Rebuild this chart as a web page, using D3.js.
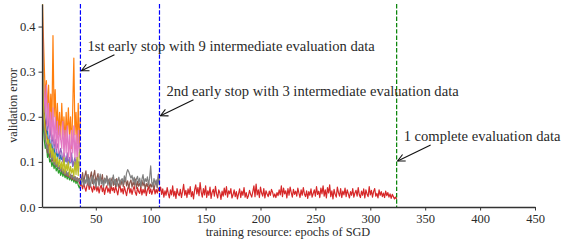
<!DOCTYPE html>
<html>
<head>
<meta charset="utf-8">
<script src="https://cdn.jsdelivr.net/npm/d3@7"></script>
<style>
  body { margin: 0; background: #fff; }
  text { font-family: "Liberation Serif", "DejaVu Serif", serif; fill: #2a2a2a; }
</style>
</head>
<body>
<div id="vis"></div>
<script>
// chart frame
const FRAME_WIDTH = 563;
const FRAME_HEIGHT = 244;
const MARGINS = {left: 42, right: 28, top: 4, bottom: 37};

// data: validation error per epoch (series start at epoch 1)
const COLORS = ["#1f77b4", "#ff7f0e", "#2ca02c", "#d62728", "#9467bd",
                "#8c564b", "#e377c2", "#7f7f7f", "#bcbd22"];

const blue = [0.48, 0.28, 0.20, 0.19, 0.16, 0.17, 0.14, 0.15, 0.13, 0.14, 0.12, 0.13,
  0.115, 0.12, 0.11, 0.125, 0.10, 0.115, 0.105, 0.11, 0.095, 0.108, 0.10, 0.112,
  0.092, 0.104, 0.098, 0.11, 0.09, 0.10, 0.094, 0.105, 0.088, 0.10, 0.092, 0.096];
const orange = [0.50, 0.40, 0.32, 0.24, 0.28, 0.21, 0.27, 0.19, 0.25, 0.18, 0.38, 0.20,
  0.26, 0.17, 0.23, 0.16, 0.21, 0.15, 0.23, 0.16, 0.20, 0.14, 0.21, 0.15,
  0.22, 0.16, 0.20, 0.13, 0.22, 0.33, 0.16, 0.21, 0.14, 0.23, 0.13, 0.20];
const green = [0.46, 0.19, 0.15, 0.13, 0.14, 0.11, 0.12, 0.10, 0.105, 0.09, 0.10, 0.085,
  0.095, 0.08, 0.088, 0.075, 0.082, 0.07, 0.08, 0.068, 0.075, 0.065, 0.072, 0.062,
  0.07, 0.06, 0.066, 0.058, 0.064, 0.055, 0.062, 0.052, 0.06, 0.048, 0.042, 0.05];
const red = [0.46, 0.30, 0.22, 0.18, 0.16, 0.15, 0.13, 0.14, 0.12, 0.11, 0.12, 0.10,
  0.11, 0.09, 0.10, 0.09, 0.085, 0.09, 0.08, 0.085, 0.075, 0.08, 0.07, 0.075,
  0.068, 0.072, 0.065, 0.07, 0.062, 0.066, 0.06, 0.064, 0.058, 0.062, 0.055, 0.048,
  // epochs 37-108
  0.050, 0.040, 0.053, 0.043, 0.035, 0.048, 0.055, 0.039, 0.049, 0.042, 0.033, 0.047,
  0.038, 0.051, 0.035, 0.045, 0.031, 0.043, 0.048, 0.034, 0.044, 0.028, 0.041, 0.047,
  0.033, 0.042, 0.030, 0.049, 0.036, 0.043, 0.032, 0.046, 0.037, 0.027, 0.042, 0.048,
  0.033, 0.041, 0.029, 0.045, 0.035, 0.025, 0.040, 0.047, 0.031, 0.041, 0.028, 0.039,
  0.046, 0.032, 0.026, 0.043, 0.034, 0.030, 0.044, 0.027, 0.039, 0.031, 0.042, 0.025,
  0.038, 0.045, 0.030, 0.040, 0.028, 0.037, 0.043, 0.029, 0.039, 0.031, 0.042, 0.034,
  // epochs 109-324
  0.044, 0.028, 0.040, 0.022, 0.036, 0.026, 0.043, 0.030, 0.020, 0.038, 0.027, 0.047,
  0.024, 0.035, 0.019, 0.041, 0.029, 0.025, 0.039, 0.021, 0.034, 0.050, 0.026, 0.037,
  0.021, 0.040, 0.028, 0.045, 0.023, 0.034, 0.018, 0.038, 0.049, 0.029, 0.043, 0.025,
  0.054, 0.033, 0.022, 0.041, 0.027, 0.047, 0.021, 0.036, 0.026, 0.044, 0.019, 0.033,
  0.039, 0.024, 0.046, 0.029, 0.020, 0.038, 0.031, 0.017, 0.035, 0.024, 0.042, 0.027,
  0.045, 0.022, 0.036, 0.029, 0.041, 0.020, 0.027, 0.038, 0.023, 0.034, 0.018, 0.029,
  0.040, 0.021, 0.035, 0.026, 0.043, 0.022, 0.032, 0.019, 0.025, 0.037, 0.028, 0.022,
  0.034, 0.047, 0.023, 0.051, 0.027, 0.038, 0.021, 0.044, 0.031, 0.024, 0.041, 0.020,
  0.036, 0.029, 0.023, 0.035, 0.026, 0.039, 0.033, 0.022, 0.029, 0.021, 0.032, 0.025,
  0.038, 0.027, 0.047, 0.023, 0.042, 0.029, 0.036, 0.020, 0.041, 0.026, 0.044, 0.032,
  0.022, 0.039, 0.028, 0.035, 0.024, 0.042, 0.031, 0.021, 0.038, 0.026, 0.043, 0.029,
  0.023, 0.036, 0.019, 0.034, 0.026, 0.040, 0.022, 0.030, 0.038, 0.024, 0.045, 0.028,
  0.035, 0.021, 0.042, 0.029, 0.047, 0.024, 0.038, 0.020, 0.043, 0.031, 0.049, 0.023,
  0.036, 0.018, 0.039, 0.028, 0.022, 0.044, 0.032, 0.024, 0.041, 0.021, 0.035, 0.027,
  0.042, 0.023, 0.038, 0.029, 0.020, 0.034, 0.026, 0.041, 0.022, 0.031, 0.037, 0.024,
  0.043, 0.027, 0.021, 0.035, 0.026, 0.040, 0.020, 0.038, 0.029, 0.023, 0.045, 0.027,
  0.037, 0.022, 0.034, 0.041, 0.024, 0.030, 0.020, 0.038, 0.026, 0.034, 0.023, 0.031,
  0.021, 0.035, 0.025, 0.032, 0.022, 0.029, 0.019, 0.028, 0.023, 0.018, 0.022, 0.017];
const purple = [0.50, 0.30, 0.21, 0.24, 0.19, 0.17, 0.20, 0.15, 0.18, 0.14, 0.16, 0.13,
  0.15, 0.12, 0.14, 0.13, 0.11, 0.13, 0.12, 0.10, 0.12, 0.11, 0.10, 0.12,
  0.09, 0.11, 0.10, 0.12, 0.09, 0.10, 0.11, 0.09, 0.10, 0.08, 0.10, 0.09];
const brown = [0.45, 0.25, 0.18, 0.15, 0.14, 0.12, 0.13, 0.11, 0.12, 0.10, 0.11, 0.095,
  0.10, 0.09, 0.095, 0.085, 0.09, 0.08, 0.085, 0.075, 0.08, 0.07, 0.078, 0.068,
  0.074, 0.065, 0.072, 0.062, 0.07, 0.06, 0.068, 0.058, 0.065, 0.06, 0.063, 0.057,
  0.062, 0.076, 0.053, 0.069, 0.080, 0.056, 0.072, 0.048, 0.067, 0.078, 0.052, 0.070,
  0.081, 0.055, 0.065, 0.074, 0.050, 0.068, 0.058, 0.072, 0.047, 0.064, 0.056, 0.069,
  0.051, 0.062, 0.043, 0.058, 0.065, 0.048, 0.060, 0.046, 0.063, 0.053, 0.044, 0.059,
  0.049, 0.061, 0.045, 0.056, 0.064, 0.047, 0.058, 0.042, 0.054, 0.060, 0.044, 0.055,
  0.048, 0.062, 0.041, 0.057, 0.046, 0.053, 0.043, 0.059, 0.047, 0.055, 0.040, 0.052,
  0.045, 0.057, 0.042, 0.051, 0.044, 0.054, 0.039, 0.050, 0.056, 0.043, 0.073, 0.048];
const pink = [0.44, 0.27, 0.25, 0.21, 0.27, 0.18, 0.23, 0.16, 0.21, 0.15, 0.22, 0.14,
  0.20, 0.13, 0.19, 0.12, 0.18, 0.15, 0.13, 0.19, 0.11, 0.17, 0.12, 0.18,
  0.11, 0.16, 0.10, 0.17, 0.12, 0.18, 0.11, 0.16, 0.10, 0.17, 0.11, 0.14];
const gray = [0.42, 0.22, 0.17, 0.16, 0.13, 0.14, 0.12, 0.125, 0.11, 0.105, 0.115, 0.095,
  0.10, 0.09, 0.098, 0.085, 0.092, 0.08, 0.088, 0.076, 0.083, 0.072, 0.08, 0.07,
  0.077, 0.066, 0.073, 0.064, 0.07, 0.061, 0.067, 0.059, 0.064, 0.056, 0.062, 0.058,
  0.050, 0.067, 0.046, 0.061, 0.052, 0.072, 0.048, 0.064, 0.045, 0.059, 0.069, 0.050,
  0.062, 0.043, 0.058, 0.065, 0.047, 0.073, 0.051, 0.060, 0.044, 0.063, 0.053, 0.068,
  0.048, 0.059, 0.064, 0.046, 0.057, 0.071, 0.050, 0.061, 0.045, 0.058, 0.066, 0.049,
  0.060, 0.063, 0.052, 0.069, 0.057, 0.075, 0.083, 0.078, 0.071, 0.064, 0.070, 0.056,
  0.066, 0.050, 0.062, 0.068, 0.053, 0.064, 0.047, 0.061, 0.072, 0.052, 0.063, 0.056,
  0.067, 0.049, 0.064, 0.091, 0.054, 0.046, 0.063, 0.051, 0.060, 0.044, 0.070, 0.053];
const olive = [0.47, 0.24, 0.20, 0.17, 0.16, 0.14, 0.15, 0.12, 0.14, 0.11, 0.13, 0.10,
  0.12, 0.095, 0.11, 0.09, 0.105, 0.085, 0.10, 0.08, 0.11, 0.075, 0.095, 0.08,
  0.10, 0.07, 0.09, 0.075, 0.085, 0.068, 0.10, 0.072, 0.11, 0.07, 0.12, 0.13];

const SERIES = [blue, orange, green, red, purple, brown, pink, gray, olive];

// early stopping points (epoch, arrow target error, label)
const STOP_EPOCHS = [36, 108, 324];
const STOP_COLORS = ["#0000ff", "#0000ff", "#008000"];
const STOP_TARGETS = [0.3, 0.2, 0.1];
const STOP_LABELS = ["1st early stop with 9 intermediate evaluation data",
                     "2nd early stop with 3 intermediate evaluation data",
                     "1 complete evaluation data"];

const X_TICKS = [50, 100, 150, 200, 250, 300, 350, 400, 450];
const Y_TICKS = [0.0, 0.1, 0.2, 0.3, 0.4];

const VIS_WIDTH = FRAME_WIDTH - MARGINS.left - MARGINS.right;
const VIS_HEIGHT = FRAME_HEIGHT - MARGINS.top - MARGINS.bottom;

const svg = d3.select("#vis")
              .append("svg")
                .attr("width", FRAME_WIDTH)
                .attr("height", FRAME_HEIGHT);

const X_SCALE = d3.scaleLinear().domain([1, 450]).range([0, VIS_WIDTH]);
const Y_SCALE = d3.scaleLinear().domain([0, 0.45]).range([VIS_HEIGHT, 0]);

const g = svg.append("g")
             .attr("transform", "translate(" + MARGINS.left + "," + MARGINS.top + ")");

g.append("clipPath").attr("id", "clip")
  .append("rect").attr("width", VIS_WIDTH).attr("height", VIS_HEIGHT);

const line = d3.line()
               .x((d, i) => X_SCALE(i + 1))
               .y(d => Y_SCALE(d));

g.append("g").attr("clip-path", "url(#clip)")
  .selectAll("path")
  .data(SERIES)
  .enter()
  .append("path")
    .attr("d", d => line(d))
    .attr("fill", "none")
    .attr("stroke", (d, i) => COLORS[i])
    .attr("stroke-width", 1.2)
    .attr("stroke-linejoin", "round");

// dashed stop lines
g.selectAll(".stop")
  .data(STOP_EPOCHS)
  .enter()
  .append("line")
    .attr("x1", d => X_SCALE(d))
    .attr("x2", d => X_SCALE(d))
    .attr("y1", 0)
    .attr("y2", VIS_HEIGHT)
    .attr("stroke", (d, i) => STOP_COLORS[i])
    .attr("stroke-width", 1.2)
    .attr("stroke-dasharray", "4.4,1.9");

// arrows + labels
svg.append("defs").append("marker")
    .attr("id", "arrow")
    .attr("viewBox", "0 0 10 10")
    .attr("refX", 9).attr("refY", 5)
    .attr("markerWidth", 9).attr("markerHeight", 9)
    .attr("markerUnits", "userSpaceOnUse")
    .attr("orient", "auto")
  .append("path")
    .attr("d", "M1,1 L9,5 L1,9")
    .attr("fill", "none")
    .attr("stroke", "#111")
    .attr("stroke-width", 1.2);

STOP_EPOCHS.forEach((ep, i) => {
  const tx = X_SCALE(ep), ty = Y_SCALE(STOP_TARGETS[i]);
  g.append("line")
    .attr("x1", tx + 34).attr("y1", ty - 17)
    .attr("x2", tx + 1).attr("y2", ty - 1)
    .attr("stroke", "#111")
    .attr("stroke-width", 1.1)
    .attr("marker-end", "url(#arrow)");
  g.append("text")
    .attr("x", tx + 7)
    .attr("y", ty - 21)
    .attr("font-size", "14.6px")
    .text(STOP_LABELS[i]);
});

// axes
const xAxis = g.append("g")
  .attr("transform", "translate(0," + VIS_HEIGHT + ")")
  .call(d3.axisBottom(X_SCALE).tickValues(X_TICKS).tickSize(3.5).tickPadding(3.5).tickSizeOuter(0));
const yAxis = g.append("g")
  .call(d3.axisLeft(Y_SCALE).tickValues(Y_TICKS).tickFormat(d3.format(".1f"))
          .tickSize(3.5).tickPadding(3).tickSizeOuter(0));

[xAxis, yAxis].forEach(a => {
  a.selectAll("text").attr("font-size", "12.5px")
    .style("font-family", "'Liberation Serif', serif").attr("fill", "#2a2a2a");
  a.selectAll("line").attr("stroke", "#333").attr("stroke-width", 1);
  a.select(".domain").attr("stroke", "#333").attr("stroke-width", 1.3);
});

svg.append("text")
  .attr("x", MARGINS.left + X_SCALE(225))
  .attr("y", 236)
  .attr("text-anchor", "middle")
  .attr("font-size", "12.3px")
  .text("training resource: epochs of SGD");

svg.append("text")
  .attr("transform", "translate(17," + (MARGINS.top + Y_SCALE(0.225)) + ") rotate(-90)")
  .attr("text-anchor", "middle")
  .attr("font-size", "12px")
  .text("validation error");
</script>
</body>
</html>
